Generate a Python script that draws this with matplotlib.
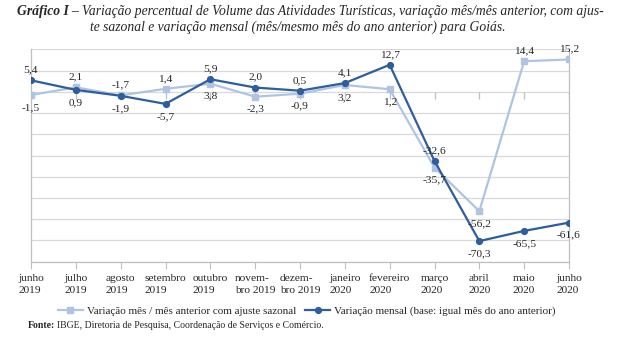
import numpy as np
import matplotlib
matplotlib.use("Agg")
import matplotlib.pyplot as plt

# ------------------------------
# DATA
# ------------------------------
months = ["junho\n2019", "julho\n2019", "agosto\n2019", "setembro\n2019",
          "outubro\n2019", "novem-\nbro 2019", "dezem-\nbro 2019",
          "janeiro\n2020", "fevereiro\n2020", "março\n2020", "abril\n2020",
          "maio\n2020", "junho\n2020"]
ajuste_sazonal = [-1.5, 2.1, -1.7, 1.4, 3.8, -2.3, -0.9, 3.2, 1.2, -35.7, -56.2, 14.4, 15.2]
variacao_mensal = [5.4, 0.9, -1.9, -5.7, 5.9, 2.0, 0.5, 4.1, 12.7, -32.6, -70.3, -65.5, -61.6]
# label side for each point: 1 = above, -1 = below
side_sazonal = [-1, 1, 1, 1, -1, -1, -1, -1, -1, -1, -1, 1, 1]
side_mensal = [1, -1, -1, -1, 1, 1, 1, 1, 1, 1, -1, -1, -1]

LIGHT = "#AFC4E2"
DARK = "#2E5E9E"
GRID = "#D9D9D9"
AXIS = "#BFBFBF"
TEXT = "#262626"

plt.rcParams["font.family"] = ["Liberation Serif", "DejaVu Serif"]

fig = plt.figure(figsize=(6.2, 3.47), dpi=100)
ax = fig.add_axes([31 / 620, 85.3 / 347, 538 / 620, 212.4 / 347])

x = np.arange(len(months))

ax.plot(x, ajuste_sazonal, color=LIGHT, lw=1.6, marker="s", ms=4.4,
        label="Variação mês / mês anterior com ajuste sazonal", zorder=3)
ax.plot(x, variacao_mensal, color=DARK, lw=1.6, marker="o", ms=4.2,
        label="Variação mensal (base: igual mês do ano anterior)", zorder=4)

# data labels
for vals, sides in ((ajuste_sazonal, side_sazonal), (variacao_mensal, side_mensal)):
    for xi, v, s in zip(x, vals, sides):
        txt = f"{v:.1f}".replace(".", ",")
        ax.annotate(txt, (xi, v), xytext=(0, 7.5 if s > 0 else -9),
                    textcoords="offset points", ha="center", va="center",
                    fontsize=8.2, color=TEXT, zorder=5)

ax.set_xlim(0, len(months) - 1)
ax.set_ylim(-80, 20)
ax.set_yticks(np.arange(-80, 21, 10))
ax.set_yticklabels([])
ax.tick_params(axis="y", length=0)
ax.grid(axis="y", color=GRID, lw=0.9)
ax.set_axisbelow(True)

ax.set_xticks(x)
ax.set_xticklabels(months, fontsize=8.2, color=TEXT, linespacing=1.45,
                   multialignment="left")
ax.tick_params(axis="x", length=5, color=AXIS, pad=4)

# ticks on the zero line
ax.plot(x, np.zeros(len(x)), ls="none", marker=3, ms=5, mew=0.9,
        color=AXIS, zorder=2)

for side in ("left", "right", "bottom"):
    ax.spines[side].set_color(AXIS)
    ax.spines[side].set_linewidth(0.9)
ax.spines["top"].set_visible(False)

# title
y1 = 1 - 12 / 347
t1 = fig.text(17 / 620, y1, "Gráfico I –", fontsize=9.8, style="italic",
              weight="bold", color=TEXT, va="center", ha="left")
fig.canvas.draw()
bb = t1.get_window_extent()
fig.text((bb.x1 + 3) / 620, y1,
         "Variação percentual de Volume das Atividades Turísticas, variação mês/mês anterior, com ajus-",
         fontsize=9.8, style="italic", color=TEXT, va="center", ha="left")
fig.text(0.48, 1 - 27 / 347,
         "te sazonal e variação mensal (mês/mesmo mês do ano anterior) para Goiás.",
         fontsize=9.8, style="italic", color=TEXT, va="center", ha="center")

fig.legend(loc="center", bbox_to_anchor=(0.495, 1 - 311 / 347), ncol=2,
           frameon=False, fontsize=8, handlelength=2.2, handletextpad=0.4,
           columnspacing=0.8, labelcolor=TEXT)

# source note
yf = 1 - 325 / 347
ft = fig.text(28 / 620, yf, "Fonte:", fontsize=7, weight="bold",
              color=TEXT, va="center", ha="left")
fig.canvas.draw()
bb = ft.get_window_extent()
fig.text((bb.x1 + 2) / 620, yf,
         "IBGE, Diretoria de Pesquisa, Coordenação de Serviços e Comércio.",
         fontsize=7, color=TEXT, va="center", ha="left")

fig.savefig("out.png", dpi=100)
